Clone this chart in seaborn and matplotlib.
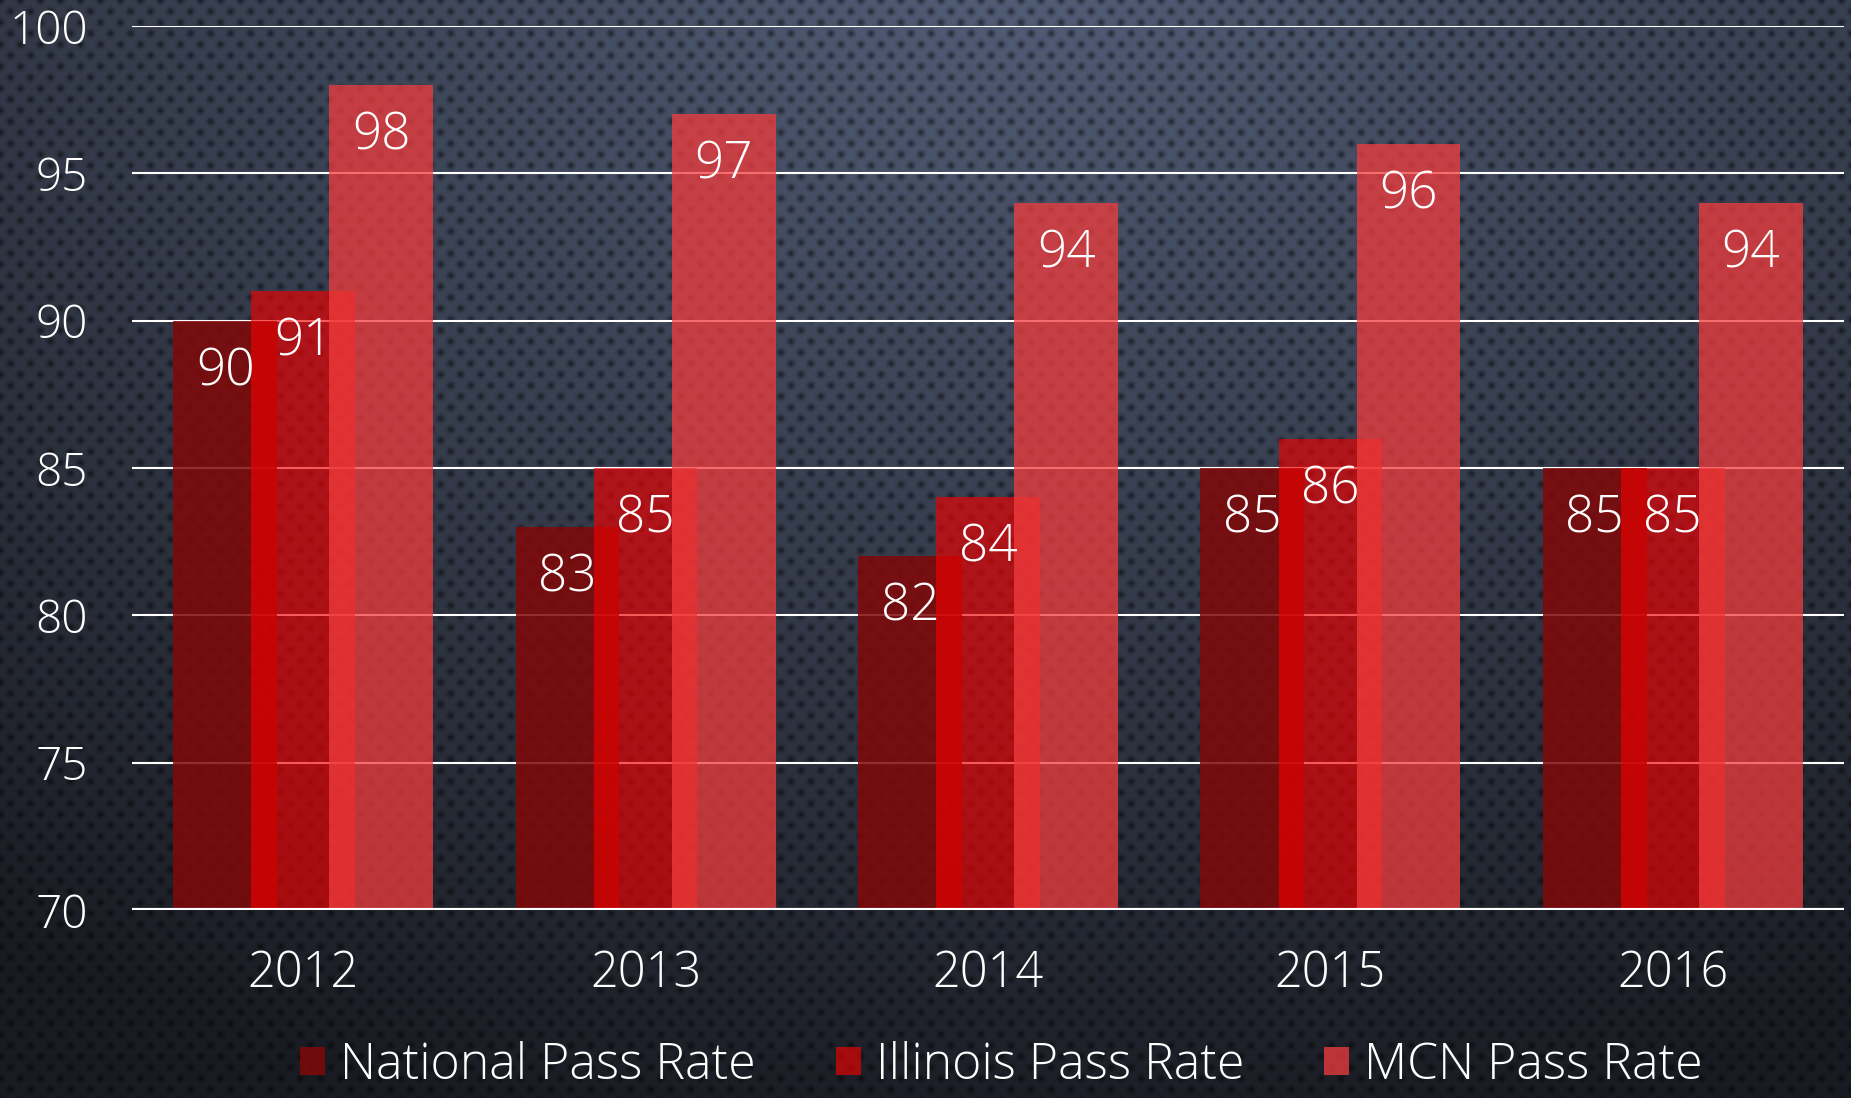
import numpy as np
import pandas as pd
import matplotlib
matplotlib.use("Agg")
import matplotlib.pyplot as plt
from matplotlib.patches import Patch
import seaborn as sns

# ---- data -------------------------------------------------------------
years = ["2012", "2013", "2014", "2015", "2016"]
national = [90, 83, 82, 85, 85]
illinois = [91, 85, 84, 86, 85]
mcn = [98, 97, 94, 96, 94]
series_names = ["National Pass Rate", "Illinois Pass Rate", "MCN Pass Rate"]
y_ticks = [70, 75, 80, 85, 90, 95, 100]

# ---- style ------------------------------------------------------------
W, H = 1851, 1098
sns.set_theme(style="dark")
plt.rcParams["font.family"] = ["Open Sans", "DejaVu Sans"]
plt.rcParams["font.weight"] = "light"

fig = plt.figure(figsize=(W / 100, H / 100), dpi=100)

# textured backdrop: radial blue-grey glow with a perforated dot pattern
bg = fig.add_axes([0, 0, 1, 1], zorder=0)
yy, xx = np.mgrid[0:H, 0:W].astype(float)
d = np.sqrt(((xx - 0.55 * W) / (0.95 * W)) ** 2 + ((yy + 0.05 * H) / (1.1 * H)) ** 2)
t = np.clip(d, 0, 1)[..., None]
light = np.array([84, 96, 122]) / 255
dark = np.array([26, 28, 35]) / 255
img = light + (dark - light) * t

sx, ry = 20.0, 11.0
def lattice_dist(ox, oy):
    dx = ((xx - ox + sx / 2) % sx) - sx / 2
    dy = ((yy - oy + ry) % (2 * ry)) - ry
    return np.sqrt(dx ** 2 + dy ** 2)
dist = np.minimum(lattice_dist(0, 0), lattice_dist(sx / 2, ry))
dots = np.exp(-(dist / 3.6) ** 2)
img = img * (1 - 0.5 * dots[..., None])
bg.imshow(img, aspect="auto", interpolation="bilinear")
bg.set_axis_off()

ax = fig.add_axes([132 / W, 1 - 910 / H, (1844 - 132) / W, (910 - 26) / H], zorder=1)
ax.set_facecolor("none")

# ---- bars -------------------------------------------------------------
pos = np.arange(len(years))
offset = 0.228
bar_w = 0.303
styles = [
    (national, -offset, "#810808", 0.85),
    (illinois, 0.0, "#f00000", 0.65),
    (mcn, offset, "#f23c3d", 0.75),
]
for i, (vals, off, color, alpha) in enumerate(styles):
    df = pd.DataFrame({"x": pos + off, "y": vals})
    sns.barplot(data=df, x="x", y="y", native_scale=True, width=bar_w,
                color=color, alpha=alpha, saturation=1, errorbar=None,
                linewidth=0, ax=ax, zorder=2 + i)
    # value labels just inside the top of each bar
    for patch, v in zip(ax.containers[-1], vals):
        ax.annotate(str(v), (patch.get_x() + patch.get_width() / 2, patch.get_height()),
                    xytext=(0, -18), textcoords="offset points",
                    ha="center", va="top", color="white", fontsize=37,
                    fontweight="light", zorder=10)

# ---- axes -------------------------------------------------------------
ax.set_xlim(-0.5, len(years) - 0.5)
ax.set_ylim(70, 100)
ax.set_yticks(y_ticks)
ax.set_yticklabels([str(v) for v in y_ticks])
ax.set_xticks(pos)
ax.set_xticklabels(years)
ax.set_xlabel("")
ax.set_ylabel("")
ax.set_axisbelow(True)
ax.yaxis.grid(True, color="white", linewidth=1.5)
ax.xaxis.grid(False)
ax.axhline(70, color="white", linewidth=3, zorder=8)
for s in ax.spines.values():
    s.set_visible(False)
ax.tick_params(axis="y", length=0, pad=32, labelsize=33, labelcolor="white")
ax.tick_params(axis="x", length=0, pad=28, labelsize=35, labelcolor="white")

# ---- legend -----------------------------------------------------------
handles = [Patch(facecolor=c, alpha=a, edgecolor="none", label=n)
           for (_, _, c, a), n in zip(styles, series_names)]
leg = fig.legend(handles=handles, loc="lower center", bbox_to_anchor=(0.541, -0.016),
                 ncol=3, frameon=False, fontsize=36, handlelength=0.5,
                 handleheight=0.5, handletextpad=0.3, columnspacing=1.6,
                 borderpad=0)
for txt in leg.get_texts():
    txt.set_color("white")

fig.savefig("out.png", dpi=100)
